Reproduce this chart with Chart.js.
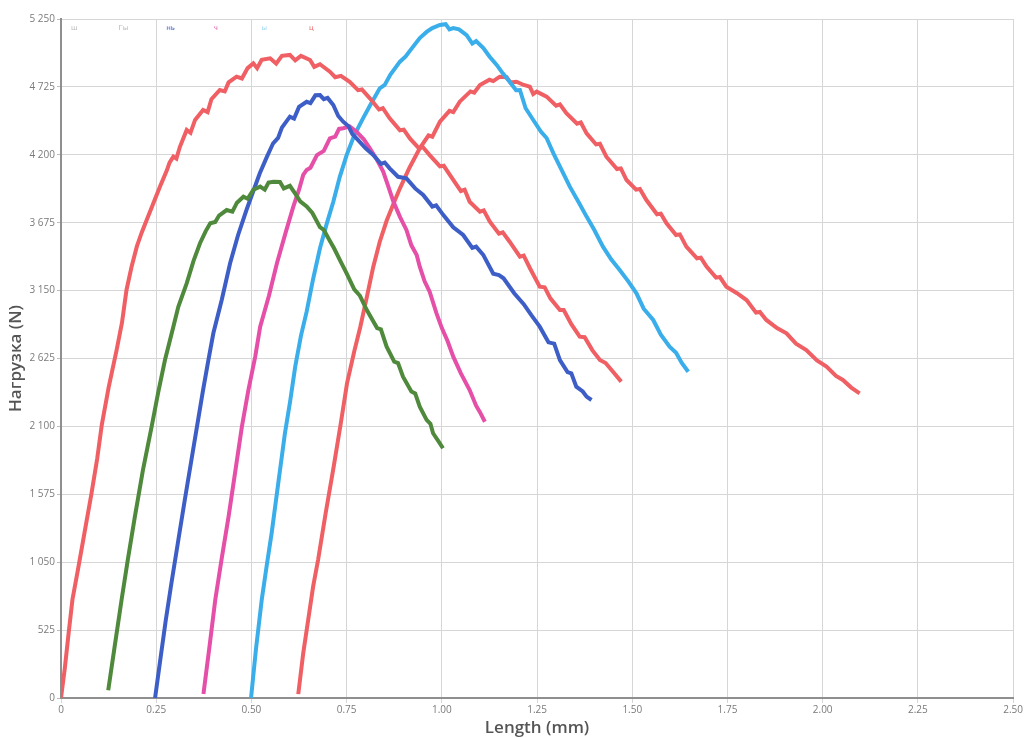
<!DOCTYPE html>
<html>
<head>
<meta charset="utf-8">
<script src="https://cdn.jsdelivr.net/npm/chart.js@4/dist/chart.umd.min.js"></script>
<style>
  html, body { margin: 0; padding: 0; background: #ffffff; }
  #wrap { width: 1024px; height: 738px; position: relative; }
</style>
</head>
<body>
<div id="wrap"><canvas id="c" width="1024" height="738"></canvas></div>
<script>
// ---- Data (x = Length, mm; y = Нагрузка, N) ----
const seriesNames = ["1", "2", "3", "4", "5", "6"];
const seriesColors = ["#ef5f63", "#4f8a3c", "#3d5ec6", "#e54fa8", "#3aaeea", "#ef5f63"];

const len1 = [0,0.01,0.02,0.03,0.045,0.06,0.08,0.095,0.107,0.125,0.146,0.16,0.172,0.185,0.199,0.212,0.225,0.243,0.26,0.278,0.285,0.295,0.303,0.312,0.33,0.34,0.352,0.373,0.385,0.395,0.417,0.43,0.44,0.461,0.475,0.49,0.505,0.515,0.527,0.549,0.565,0.58,0.601,0.615,0.63,0.654,0.665,0.68,0.706,0.72,0.735,0.758,0.78,0.79,0.811,0.835,0.845,0.863,0.89,0.9,0.916,0.94,0.95,0.968,0.995,1.005,1.021,1.05,1.06,1.073,1.1,1.11,1.126,1.15,1.16,1.178,1.205,1.215,1.231,1.257,1.27,1.285,1.31,1.32,1.34,1.362,1.375,1.395,1.415,1.43,1.45,1.471];
const load1 = [0,230,500,760,1000,1250,1580,1850,2110,2400,2690,2900,3155,3330,3490,3600,3696,3830,3954,4080,4140,4186,4170,4260,4392,4370,4470,4547,4530,4630,4701,4690,4760,4804,4790,4870,4907,4870,4935,4946,4905,4965,4972,4930,4965,4933,4880,4900,4843,4800,4810,4765,4700,4705,4637,4550,4560,4482,4390,4395,4327,4250,4260,4198,4110,4115,4044,3920,3930,3837,3760,3770,3683,3590,3600,3528,3412,3420,3325,3180,3175,3090,3000,3000,2890,2794,2790,2690,2613,2590,2520,2446];

const len2 = [0.124,0.14,0.159,0.176,0.194,0.215,0.238,0.255,0.273,0.295,0.308,0.33,0.348,0.365,0.38,0.392,0.405,0.415,0.435,0.45,0.462,0.479,0.49,0.505,0.523,0.535,0.545,0.558,0.575,0.585,0.601,0.615,0.628,0.645,0.66,0.68,0.69,0.705,0.717,0.735,0.75,0.77,0.785,0.803,0.83,0.84,0.855,0.875,0.885,0.898,0.92,0.93,0.942,0.96,0.97,0.977,0.99,1.003];
const load2 = [60,380,758,1080,1402,1760,2098,2360,2613,2871,3025,3206,3380,3516,3610,3670,3680,3730,3773,3760,3830,3876,3860,3930,3954,3930,3985,3992,3990,3940,3960,3900,3840,3800,3750,3640,3619,3540,3477,3370,3284,3160,3110,3000,2860,2850,2716,2600,2590,2484,2370,2355,2252,2150,2120,2047,1990,1931];

const len3 = [0.247,0.26,0.275,0.29,0.308,0.325,0.343,0.36,0.373,0.387,0.4,0.422,0.444,0.465,0.487,0.505,0.522,0.54,0.557,0.57,0.58,0.601,0.612,0.625,0.645,0.655,0.668,0.68,0.69,0.7,0.715,0.728,0.741,0.755,0.765,0.776,0.8,0.82,0.84,0.85,0.863,0.885,0.907,0.93,0.951,0.975,0.985,1.004,1.03,1.056,1.08,1.09,1.109,1.135,1.15,1.162,1.19,1.215,1.235,1.257,1.28,1.295,1.31,1.33,1.34,1.353,1.37,1.38,1.393];
const load3 = [0,280,600,889,1220,1531,1850,2150,2380,2613,2820,3077,3361,3580,3773,3920,4057,4180,4289,4330,4410,4495,4480,4570,4610,4600,4660,4662,4630,4640,4585,4500,4456,4420,4360,4327,4250,4198,4130,4140,4095,4030,4018,3940,3889,3800,3810,3734,3640,3580,3480,3490,3425,3280,3270,3245,3130,3045,2960,2871,2750,2740,2613,2520,2510,2407,2370,2330,2304];

const len4 = [0.374,0.39,0.405,0.422,0.44,0.458,0.475,0.492,0.51,0.523,0.546,0.567,0.59,0.61,0.625,0.636,0.645,0.655,0.672,0.69,0.706,0.72,0.73,0.741,0.758,0.776,0.795,0.811,0.83,0.846,0.86,0.872,0.89,0.907,0.92,0.934,0.942,0.955,0.968,0.986,1.0,1.015,1.03,1.05,1.073,1.09,1.1,1.113];
const load4 = [30,400,758,1080,1402,1760,2098,2380,2639,2871,3110,3361,3600,3799,3930,4044,4083,4100,4198,4230,4327,4340,4400,4405,4420,4379,4320,4250,4160,4070,3950,3845,3720,3619,3500,3425,3335,3220,3142,2974,2860,2760,2639,2510,2381,2260,2210,2136];

const len5 = [0.499,0.512,0.527,0.54,0.553,0.57,0.588,0.602,0.615,0.63,0.645,0.662,0.68,0.698,0.715,0.732,0.75,0.77,0.793,0.815,0.837,0.85,0.865,0.89,0.905,0.915,0.942,0.96,0.975,0.995,1.01,1.02,1.03,1.045,1.065,1.08,1.09,1.109,1.125,1.144,1.16,1.178,1.195,1.205,1.22,1.24,1.26,1.275,1.293,1.315,1.336,1.36,1.38,1.4,1.423,1.445,1.467,1.49,1.511,1.53,1.555,1.575,1.598,1.615,1.63,1.647];
const load5 = [0,380,758,1020,1273,1650,2047,2300,2562,2800,2987,3240,3477,3670,3837,4030,4198,4350,4482,4600,4714,4740,4820,4920,4960,5000,5103,5150,5180,5204,5210,5170,5180,5170,5126,5060,5080,5026,4960,4895,4830,4765,4700,4701,4560,4469,4380,4330,4211,4080,3954,3830,3722,3620,3490,3390,3309,3220,3129,3010,2923,2810,2716,2670,2590,2523];

const len6 = [0.623,0.636,0.649,0.662,0.675,0.695,0.716,0.735,0.751,0.77,0.786,0.803,0.82,0.837,0.855,0.877,0.89,0.915,0.942,0.965,0.975,0.995,1.02,1.03,1.047,1.075,1.085,1.1,1.125,1.135,1.152,1.17,1.18,1.196,1.215,1.231,1.24,1.249,1.275,1.3,1.31,1.327,1.355,1.365,1.38,1.405,1.415,1.432,1.46,1.47,1.485,1.51,1.52,1.537,1.565,1.575,1.59,1.615,1.625,1.642,1.67,1.68,1.695,1.72,1.73,1.747,1.775,1.8,1.825,1.835,1.852,1.88,1.905,1.93,1.957,1.985,2.01,2.035,2.053,2.075,2.097];
const load6 = [30,346,603,861,1067,1430,1789,2130,2433,2680,2871,3100,3335,3528,3690,3850,3941,4100,4250,4350,4340,4456,4540,4530,4611,4690,4680,4740,4780,4770,4804,4800,4760,4765,4740,4727,4670,4688,4650,4580,4590,4521,4440,4450,4366,4280,4285,4185,4090,4095,4005,3930,3935,3850,3740,3745,3670,3580,3585,3490,3400,3405,3335,3250,3255,3180,3130,3077,2980,2985,2923,2860,2820,2740,2691,2610,2562,2490,2459,2400,2356];

const xTickValues = [0,0.25,0.5,0.75,1,1.25,1.5,1.75,2,2.25,2.5];
const yTickValues = [0,525,1050,1575,2100,2625,3150,3675,4200,4725,5250];
const xTitle = "Length (mm)";
const yTitle = "Нагрузка (N)";
const legendLabels = ["ш", "Гы", "нь", "ч", "ы", "ц"];
const legendColors = ["#b9b9b9", "#b9b9b9", "#4a66c8", "#e55aa8", "#9fd6f0", "#ea5f63"];

// ---- Build datasets ----
const lens = [len1, len2, len3, len4, len5, len6];
const loads = [load1, load2, load3, load4, load5, load6];
const datasets = lens.map((xs, i) => ({
  label: seriesNames[i],
  data: xs.map((x, k) => ({ x: x, y: loads[i][k] })),
  borderColor: seriesColors[i],
  backgroundColor: seriesColors[i],
  borderWidth: 4,
  pointRadius: 0,
  tension: 0,
  fill: false
}));

function fmtThousands(v) {
  const s = String(Math.round(v));
  return s.replace(/\B(?=(\d{3})+(?!\d))/g, " ");
}

const legendPlugin = {
  id: "tinyLegend",
  afterDatasetsDraw(chart) {
    const ctx = chart.ctx;
    const a = chart.chartArea;
    ctx.save();
    ctx.font = "7px 'DejaVu Sans'";
    ctx.textBaseline = "middle";
    const step = (a.right - a.left) / 20;
    legendLabels.forEach((t, i) => {
      ctx.fillStyle = legendColors[i];
      ctx.fillText(t, a.left + 10 + i * step, a.top + 9);
    });
    ctx.restore();
  }
};

new Chart(document.getElementById("c"), {
  type: "line",
  data: { datasets: datasets },
  plugins: [legendPlugin],
  options: {
    responsive: false,
    animation: false,
    layout: { padding: { left: 0, right: 9, top: 19, bottom: 0 } },
    plugins: {
      legend: { display: false },
      tooltip: { enabled: false }
    },
    scales: {
      x: {
        type: "linear",
        min: 0, max: 2.5,
        afterBuildTicks: (s) => { s.ticks = xTickValues.map(v => ({ value: v })); },
        afterFit: (s) => { s.height = 40; },
        grid: { color: "#d6d6d6", lineWidth: 1, tickLength: 5, tickColor: "#d6d6d6" },
        border: { color: "#8f8f8f", width: 2 },
        ticks: {
          color: "#7a7a7a",
          font: { family: "'Open Sans'", size: 10 },
          padding: 1,
          maxRotation: 0,
          callback: (v) => v === 0 ? "0" : Number(v).toFixed(2)
        },
        title: {
          display: true, text: xTitle, color: "#555555",
          font: { family: "'Open Sans'", size: 17, weight: "600" },
          padding: { top: 0, bottom: 0 }
        }
      },
      y: {
        type: "linear",
        min: 0, max: 5250,
        afterBuildTicks: (s) => { s.ticks = yTickValues.map(v => ({ value: v })); },
        afterFit: (s) => { s.width = 61; },
        grid: { color: "#d6d6d6", lineWidth: 1, tickLength: 4, tickColor: "#bcbcbc" },
        border: { color: "#8f8f8f", width: 2 },
        ticks: {
          color: "#7a7a7a",
          font: { family: "'Open Sans'", size: 10 },
          padding: 2,
          callback: (v) => fmtThousands(v)
        },
        title: {
          display: true, text: yTitle, color: "#555555",
          font: { family: "'Open Sans'", size: 17, weight: "600" },
          padding: { top: 6, bottom: 0 }
        }
      }
    }
  }
});
</script>
</body>
</html>
